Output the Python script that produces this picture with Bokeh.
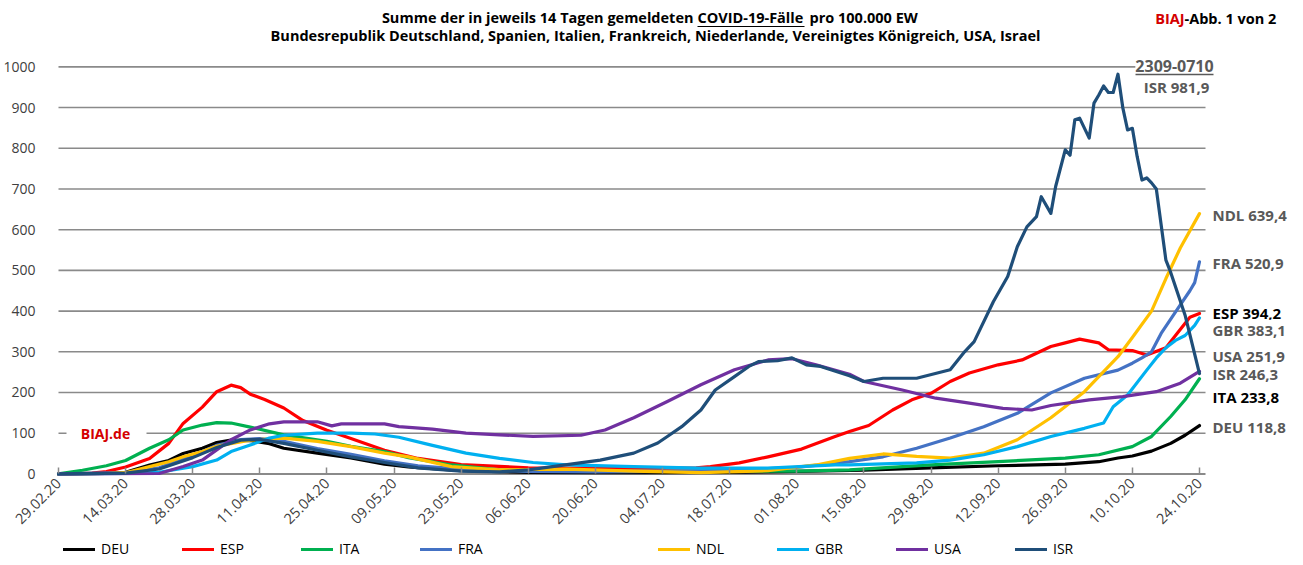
import math
from bokeh.plotting import figure
from bokeh.models import FixedTicker, Label, Legend, LegendItem, Range1d
from bokeh.embed import file_html
from bokeh.resources import INLINE

# ---------------- data ----------------
tick_days = list(range(0, 239, 14))
tick_labels = ["29.02.20", "14.03.20", "28.03.20", "11.04.20", "25.04.20", "09.05.20",
               "23.05.20", "06.06.20", "20.06.20", "04.07.20", "18.07.20", "01.08.20",
               "15.08.20", "29.08.20", "12.09.20", "26.09.20", "10.10.20", "24.10.20"]

DEU_days = [0, 10, 14, 19, 23, 26, 30, 33, 36, 40, 44, 47, 54, 61, 68, 73, 84, 98, 112, 126,
            140, 154, 168, 182, 196, 210, 217, 221, 224, 228, 232, 235, 238]
DEU_vals = [0, 1, 4, 22, 33, 50, 63, 77, 83, 82, 74, 63, 51, 39, 24, 17, 8, 4, 3, 3,
            4, 6, 9, 15, 20, 24, 30, 39, 44, 56, 75, 95, 118.8]

ESP_days = [0, 7, 10, 14, 19, 23, 26, 30, 33, 36, 38, 40, 43, 47, 51, 56, 61, 68, 75, 84, 98,
            112, 126, 133, 136, 142, 148, 155, 162, 165, 169, 174, 178, 182, 186, 190, 196,
            201, 207, 210, 213, 217, 219, 224, 227, 231, 233, 236, 238]
ESP_vals = [0, 2, 6, 17, 38, 75, 124, 164, 202, 218, 212, 196, 183, 162, 131, 107, 87, 58, 38,
            23, 15, 14, 14, 15, 18, 27, 42, 61, 92, 104, 119, 157, 182, 198, 227, 248, 268,
            280, 313, 322, 331, 322, 305, 303, 292, 310, 340, 385, 394.2]

ITA_days = [0, 5, 10, 14, 19, 23, 26, 30, 33, 36, 40, 47, 56, 61, 68, 73, 82, 92, 100, 112,
            126, 140, 154, 165, 182, 196, 210, 217, 224, 228, 232, 235, 238]
ITA_vals = [0, 9, 20, 33, 63, 84, 108, 120, 126, 125, 115, 96, 80, 68, 55, 40, 22, 10, 7, 6,
            6, 6, 7, 10, 22, 30, 39, 47, 67, 92, 141, 182, 233.8]

FRA_days = [0, 14, 21, 28, 33, 38, 42, 47, 54, 61, 68, 75, 84, 98, 112, 126, 140, 154, 165,
            172, 179, 186, 193, 200, 207, 214, 221, 224, 226, 228, 230, 232, 234, 236, 237, 238]
FRA_vals = [0, 3, 15, 45, 70, 84, 87, 80, 62, 48, 32, 20, 12, 6, 5, 6, 9, 16, 30,
            42, 63, 88, 116, 149, 199, 235, 255, 272, 285, 300, 345, 380, 415, 450, 470, 520.9]

NDL_days = [0, 10, 14, 19, 23, 26, 30, 33, 40, 47, 54, 61, 68, 73, 82, 92, 106, 120, 134, 148,
            158, 165, 172, 179, 186, 193, 200, 207, 214, 221, 224, 228, 231, 234, 238]
NDL_vals = [0, 1, 3, 18, 30, 42, 55, 68, 83, 88, 80, 67, 51, 42, 18, 10, 12, 7, 3, 8,
            22, 38, 49, 43, 39, 51, 84, 138, 202, 288, 335, 400, 480, 555, 639.4]

GBR_days = [0, 14, 21, 28, 33, 36, 40, 44, 47, 54, 61, 66, 71, 78, 85, 92, 99, 106, 120, 134,
            148, 162, 165, 179, 186, 193, 200, 207, 214, 218, 220, 223, 227, 229, 231, 233,
            235, 237, 238]
GBR_vals = [0, 1, 4, 18, 34, 55, 71, 88, 95, 100, 100, 98, 90, 70, 51, 38, 28, 22, 18, 14,
            14, 22, 22, 27, 34, 47, 67, 92, 112, 125, 165, 194, 255, 285, 310, 328,
            340, 365, 383.1]

USA_days = [0, 21, 26, 30, 33, 36, 40, 44, 47, 54, 57, 59, 68, 71, 78, 85, 92, 99, 109, 114,
            120, 127, 134, 141, 148, 153, 158, 165, 168, 176, 183, 190, 197, 203, 207, 215,
            222, 229, 234, 238]
USA_vals = [0, 1, 18, 34, 59, 84, 108, 123, 128, 128, 118, 123, 123, 116, 110, 100, 96, 92, 95,
            108, 138, 178, 219, 256, 280, 283, 268, 245, 227, 206, 186, 174, 161, 157, 168,
            182, 190, 202, 223, 251.9]

ISR_days = [0, 14, 21, 28, 33, 38, 42, 47, 54, 61, 68, 75, 84, 92, 98, 103, 113, 120, 125, 127,
            130, 134, 137, 141, 144, 146, 150, 153, 156, 159, 165, 168, 172, 179, 186, 189,
            191, 195, 198, 200, 202, 204, 205, 207, 208, 210, 211, 212, 213, 215, 216, 217,
            218, 219, 220, 221, 222, 223, 224, 225, 226, 227, 228, 229, 231, 232, 235, 238]
ISR_vals = [0, 2, 12, 40, 65, 83, 85, 75, 58, 42, 28, 15, 7, 5, 10, 18, 34, 51, 76, 92,
            116, 157, 206, 239, 264, 276, 278, 285, 268, 264, 241, 227, 235, 235, 256, 300,
            325, 423, 485, 558, 607, 632, 681, 640, 706, 796, 783, 870, 874, 825, 911, 931,
            953, 937, 937, 981.9, 900, 845, 849, 780, 722, 727, 715, 700, 525, 495, 390, 246.3]

names = ["DEU", "ESP", "ITA", "FRA", "NDL", "GBR", "USA", "ISR"]
series_days = [DEU_days, ESP_days, ITA_days, FRA_days, NDL_days, GBR_days, USA_days, ISR_days]
series_vals = [DEU_vals, ESP_vals, ITA_vals, FRA_vals, NDL_vals, GBR_vals, USA_vals, ISR_vals]
peak_period = "2309-0710"

# ---------------- style / layout ----------------
colors = {"DEU": "#000000", "ESP": "#ff0000", "ITA": "#00b050", "FRA": "#4472c4",
          "NDL": "#ffc000", "GBR": "#00b0f0", "USA": "#7030a0", "ISR": "#1f4e79"}
label_offsets = {"NDL": -3, "FRA": -3, "ESP": 2, "GBR": -29, "USA": 38, "ISR": 0,
                 "ITA": -45, "DEU": -4}
label_colors = {"ESP": "#000000", "ITA": "#000000"}
FONT = "Open Sans"
GRID = "#8a8a8a"
TXT = "#404040"

FW, FH = 1303, 565        # frame size (px) = whole canvas
PXD = 4.794               # px per day
X0 = -58 / PXD            # day 0 sits at x = 58 px
X1 = X0 + FW / PXD
Y0, Y1 = -225, 1163
PXV = FH / (Y1 - Y0)      # px per value unit


def px2x(px):             # page pixel -> day coordinate
    return px / PXD + X0


def py2y(py):             # page pixel -> value coordinate
    return Y1 - py / PXV


p = figure(output_backend="svg", toolbar_location=None, frame_width=FW, frame_height=FH,
           x_range=Range1d(X0, X1), y_range=Range1d(Y0, Y1),
           min_border_left=0, min_border_right=0, min_border_top=0, min_border_bottom=0)
p.outline_line_color = None
p.xgrid.visible = False
p.ygrid.visible = False
p.background_fill_color = "white"
p.border_fill_color = "white"

y_ticks = list(range(0, 1001, 100))
grid_end = px2x(1205)
p.segment(x0=[0] * (len(y_ticks) - 1), x1=[grid_end] * (len(y_ticks) - 1),
          y0=y_ticks[1:], y1=y_ticks[1:], line_color=GRID, line_width=1.6)
# white patch behind BIAJ.de
p.quad(left=[px2x(66)], right=[px2x(146)], bottom=[100 - 8], top=[100 + 8],
       fill_color="white", line_color=None)
# x axis line
p.segment(x0=[0], x1=[grid_end], y0=[0], y1=[0], line_color=GRID, line_width=2)

renderers = {}
for n, d, v in zip(names, series_days, series_vals):
    renderers[n] = p.line(d, v, line_color=colors[n], line_width=3.2, line_join="round",
                          line_cap="round")

dummy = p.line([0], [0], line_alpha=0)

# x axis drawn at value 0 inside the frame
xa = p.xaxis[0]
xa.fixed_location = 0
xa.ticker = FixedTicker(ticks=tick_days)
xa.major_label_overrides = {d: lab for d, lab in zip(tick_days, tick_labels)}
xa.major_label_orientation = math.pi / 4
xa.axis_line_color = None
xa.major_tick_line_color = GRID
xa.major_tick_line_width = 1.5
xa.major_tick_in = 6
xa.major_tick_out = 0
xa.minor_tick_line_color = None
xa.major_label_text_font = FONT
xa.major_label_text_font_size = "14.5px"
xa.major_label_text_color = TXT
xa.major_label_standoff = 7

# y axis drawn just left of the plot area, inside the frame
ya = p.yaxis[0]
ya.fixed_location = px2x(53)
ya.ticker = FixedTicker(ticks=y_ticks)
ya.axis_line_color = None
ya.major_tick_line_color = None
ya.minor_tick_line_color = None
ya.major_label_text_font = FONT
ya.major_label_text_font_size = "14px"
ya.major_label_text_color = TXT
ya.major_label_standoff = 12

# legend
items = []
for n in names:
    items.append(LegendItem(label=n, renderers=[renderers[n]]))
    if n == "FRA":
        items.append(LegendItem(label=" ", renderers=[dummy]))
legend = Legend(items=items, orientation="horizontal", location=(63, 7),
                glyph_width=32, glyph_height=14, label_width=81, label_standoff=6,
                spacing=0, padding=0, margin=0, border_line_color=None,
                background_fill_alpha=0, label_text_font=FONT, label_text_font_size="14px",
                label_height=16, label_text_color="#000000")
p.add_layout(legend, "center")


def add_label(text, x, y, size="14.5px", color="black", align="center", bold=True, bg=None,
              pad=0):
    lab = Label(x=x, y=y, text=text, text_align=align, text_baseline="middle",
                text_font=FONT, text_font_size=size, text_color=color,
                text_font_style="bold" if bold else "normal")
    if bg:
        lab.background_fill_color = bg
        lab.padding = pad
    p.add_layout(lab)


# title
add_label("Summe der in jeweils 14 Tagen gemeldeten", px2x(693), py2y(17), align="right")
add_label("COVID-19-Fälle", px2x(697), py2y(17), align="left")
add_label("pro 100.000 EW", px2x(809), py2y(17), align="left")
p.segment(x0=[px2x(697)], x1=[px2x(804)], y0=[py2y(26)], y1=[py2y(26)],
          line_color="black", line_width=1)
add_label("Bundesrepublik Deutschland, Spanien, Italien, Frankreich, Niederlande, "
          "Vereinigtes Königreich, USA, Israel", px2x(655), py2y(35))
add_label("BIAJ", px2x(1184), py2y(18), color="#d40000", align="right")
add_label("-Abb. 1 von 2", px2x(1184), py2y(18), align="left")
add_label("BIAJ.de", px2x(105), 100, color="#d40000", size="14px")

# peak label
isr_max = max(ISR_vals)
add_label(peak_period, px2x(1174), py2y(65), color="#595959", size="16px", bg="white")
p.segment(x0=[px2x(1135)], x1=[px2x(1213)], y0=[py2y(74)], y1=[py2y(74)],
          line_color="#595959", line_width=1.5)
add_label("ISR " + f"{isr_max:.1f}".replace(".", ","), px2x(1176), py2y(86),
          color="#595959", size="15px")

# end-value labels
order = ["NDL", "FRA", "ESP", "GBR", "USA", "ISR", "ITA", "DEU"]
for n in order:
    last = series_vals[names.index(n)][-1]
    add_label(n + " " + f"{last:.1f}".replace(".", ","), px2x(1212), last + label_offsets[n],
              color=label_colors.get(n, "#595959"), size="15px", align="left", bg="white")

open("out.html", "w").write(file_html(p, INLINE))
